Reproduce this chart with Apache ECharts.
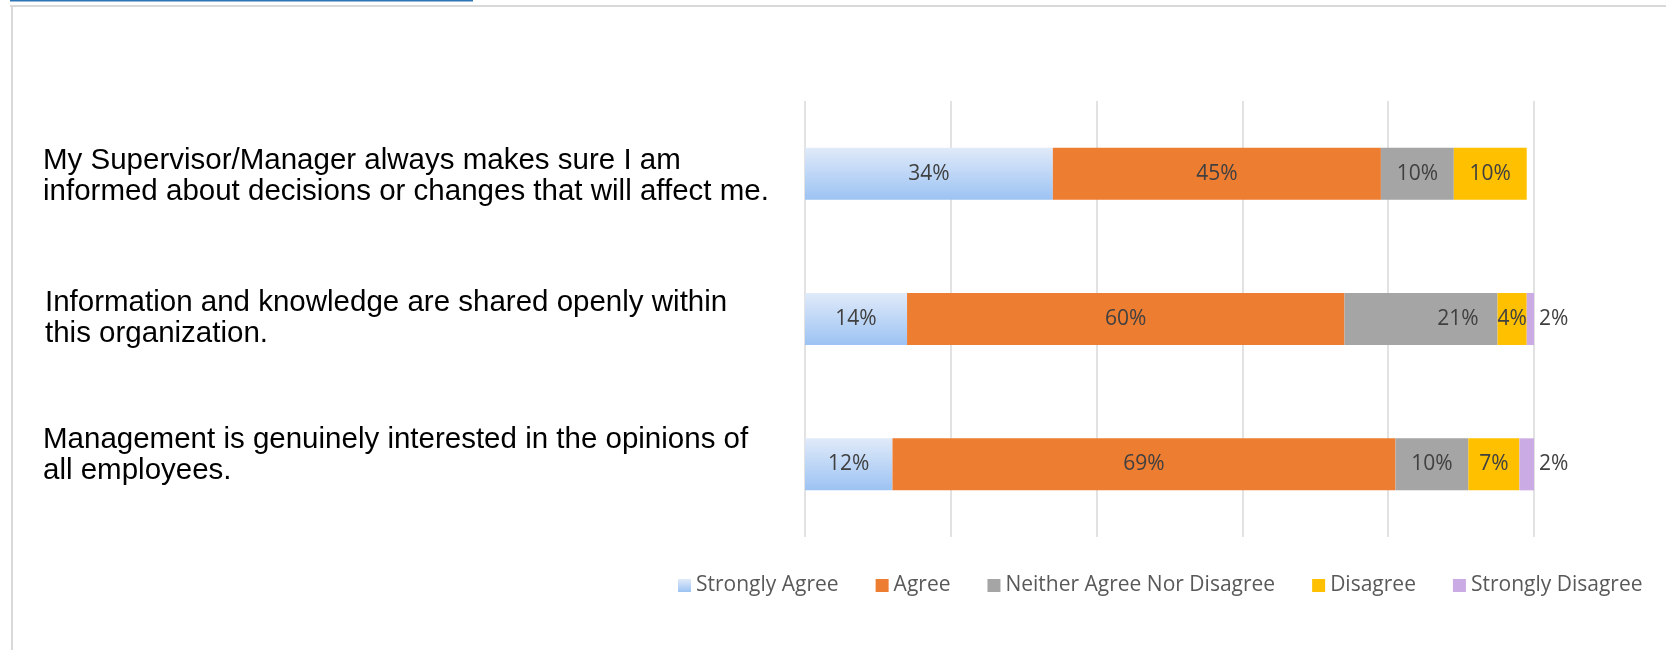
<!DOCTYPE html>
<html>
<head>
<meta charset="utf-8">
<title>Communication survey</title>
<script src="https://cdn.jsdelivr.net/npm/echarts@6/dist/echarts.min.js"></script>
<style>
  html, body { margin: 0; padding: 0; background: #ffffff; }
  #chart { width: 1666px; height: 650px; }
</style>
</head>
<body>
<div id="chart"></div>
<script>
// Survey statements (top to bottom)
const statements = [
  'My Supervisor/Manager always makes sure I am\ninformed about decisions or changes that will affect me.',
  'Information and knowledge are shared openly within\nthis organization.',
  'Management is genuinely interested in the opinions of\nall employees.'
];

// Response categories
const responses = ['Strongly Agree', 'Agree', 'Neither Agree Nor Disagree', 'Disagree', 'Strongly Disagree'];

// Percent of respondents per statement, one array per response
const stronglyAgree = [34, 14, 12];
const agree = [45, 60, 69];
const neither = [10, 21, 10];
const disagree = [10, 4, 7];
const stronglyDisagree = [null, 2, 2];

const seriesValues = [stronglyAgree, agree, neither, disagree, stronglyDisagree];

const agreeGradient = new echarts.graphic.LinearGradient(0, 0, 0, 1, [
  { offset: 0, color: '#e0eaf9' },
  { offset: 1, color: '#9cc3f3' }
]);
const colors = [agreeGradient, '#ed7d31', '#a5a5a5', '#ffc000', '#cbabe3'];

const labelFont = {
  fontFamily: 'Open Sans',
  fontSize: 21,
  color: '#404040'
};

const series = responses.map((name, i) => ({
  name: name,
  type: 'bar',
  stack: 'total',
  barWidth: 52,
  itemStyle: { color: colors[i] },
  label: Object.assign({
    show: true,
    position: i === 4 ? 'right' : 'inside',
    formatter: p => (p.value == null ? '' : p.value + '%')
  }, labelFont),
  data: seriesValues[i].map((v, j) => {
    // the neutral label on the second statement sits toward the bar's right end
    if (i === 2 && j === 1) {
      return { value: v, label: { position: 'insideRight', distance: 19 } };
    }
    return v;
  })
}));

// statement text blocks; an empty spacer line above or below nudges a block within its row
const statementFont = {
  fontFamily: 'Liberation Sans',
  fontSize: 29.5,
  lineHeight: 31,
  color: '#000000'
};
const rowLayout = [
  { spaceAbove: 6, spaceBelow: 0, indent: 0 },
  { spaceAbove: 0, spaceBelow: 2, indent: 2 },
  { spaceAbove: 0, spaceBelow: 18, indent: 0 }
];
const statementRich = {
  line: Object.assign({}, statementFont),
  lineIndent: Object.assign({ padding: [0, 0, 0, 2] }, statementFont)
};
const spacerKey = h => {
  const key = 'gap' + h;
  statementRich[key] = { fontSize: 1, lineHeight: h, height: h };
  return key;
};

function statementFormatter(value, index) {
  const cfg = rowLayout[index] || { spaceAbove: 0, spaceBelow: 0, indent: 0 };
  const style = cfg.indent ? 'lineIndent' : 'line';
  const out = value.split('\n').map(l => '{' + style + '|' + l + '}');
  if (cfg.spaceAbove) out.unshift('{' + spacerKey(cfg.spaceAbove) + '|\u200b}');
  if (cfg.spaceBelow) out.push('{' + spacerKey(cfg.spaceBelow) + '|\u200b}');
  return out.join('\n');
}
rowLayout.forEach(c => { if (c.spaceAbove) spacerKey(c.spaceAbove); if (c.spaceBelow) spacerKey(c.spaceBelow); });

const chart = echarts.init(document.getElementById('chart'), null, { renderer: 'canvas' });

chart.setOption({
  backgroundColor: '#ffffff',
  animation: false,
  graphic: [
    // page frame
    { type: 'rect', shape: { x: 0, y: 0, width: 463, height: 1.5 }, left: 10, top: 0, style: { fill: '#2e75b6' } },
    { type: 'rect', shape: { x: 0, y: 0, width: 1656, height: 2 }, left: 10, top: 5, style: { fill: '#d9d9d9' } },
    { type: 'rect', shape: { x: 0, y: 0, width: 2, height: 645 }, left: 11, top: 5, style: { fill: '#d9d9d9' } }
  ],
  legend: {
    data: responses,
    left: 673,
    top: 570,
    itemWidth: 13,
    itemHeight: 13,
    itemGap: 37,
    icon: 'rect',
    textStyle: {
      fontFamily: 'Open Sans',
      fontSize: 21,
      color: '#595959'
    }
  },
  grid: {
    left: 805,
    right: 132,
    top: 101,
    height: 436,
    outerBoundsMode: 'none',
    containLabel: false
  },
  xAxis: {
    type: 'value',
    min: 0,
    max: 100,
    interval: 20,
    axisLabel: { show: false },
    axisLine: { show: false },
    axisTick: { show: false },
    splitLine: { show: true, lineStyle: { color: '#d9d9d9', width: 1.5 } }
  },
  yAxis: {
    type: 'category',
    inverse: true,
    data: statements,
    axisLine: { show: false },
    axisTick: { show: false },
    axisLabel: Object.assign({
      margin: 762,
      align: 'left',
      formatter: statementFormatter,
      rich: statementRich
    }, statementFont)
  },
  series: series
});
</script>
</body>
</html>
